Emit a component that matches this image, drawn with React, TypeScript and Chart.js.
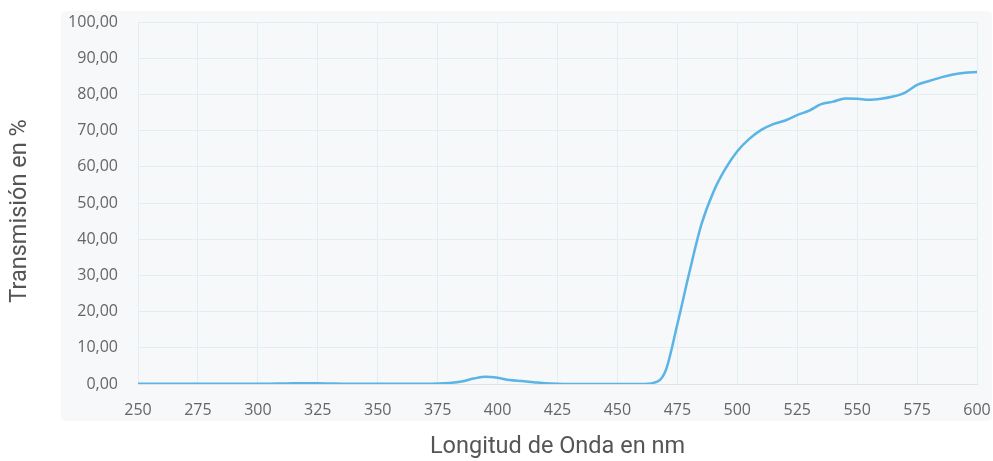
import React, { useEffect, useRef } from "react";
import { Chart, registerables } from "chart.js";

Chart.register(...registerables);

const wavelengths: number[] = [
  250, 255, 260, 265, 270, 275, 280, 285, 290, 295, 300, 305, 310, 315, 320, 325, 330, 335, 340, 345,
  350, 355, 360, 365, 370, 375, 380, 385, 390, 395, 400, 405, 410, 415, 420, 425, 430, 435, 440, 445,
  450, 455, 460, 465, 470, 475, 480, 485, 490, 495, 500, 505, 510, 515, 520, 525, 530, 535, 540, 545,
  550, 555, 560, 565, 570, 575, 580, 585, 590, 595, 600,
];

const transmission: number[] = [
  0.1, 0.1, 0.1, 0.1, 0.1, 0.1, 0.1, 0.1, 0.1, 0.1, 0.1, 0.1, 0.15, 0.2, 0.2, 0.2, 0.15, 0.1, 0.1, 0.1,
  0.1, 0.1, 0.1, 0.1, 0.1, 0.15, 0.3, 0.7, 1.5, 2.0, 1.7, 1.1, 0.8, 0.5, 0.2, 0.05, 0, 0, 0, 0,
  0, 0, 0, 0.3, 3.5, 16.5, 30.8, 44, 53, 59.4, 64.3, 67.7, 70.2, 71.8, 72.8, 74.3, 75.5, 77.3, 78, 78.9,
  78.8, 78.5, 78.8, 79.4, 80.5, 82.6, 83.7, 84.7, 85.5, 86.0, 86.2,
];

const xTitle = "Longitud de Onda en nm";
const yTitle = "Transmisión en %";

const panelPlugin = {
  id: "panelBg",
  beforeDraw(chart: any) {
    const { ctx, chartArea } = chart;
    const x0 = chartArea.left - 77;
    const y0 = chartArea.top - 11;
    const x1 = chartArea.right + 15;
    const y1 = chartArea.bottom + 37;
    const r = 6;
    ctx.save();
    ctx.fillStyle = "#f6f8f9";
    ctx.beginPath();
    ctx.moveTo(x0 + r, y0);
    ctx.lineTo(x1 - r, y0);
    ctx.quadraticCurveTo(x1, y0, x1, y0 + r);
    ctx.lineTo(x1, y1 - r);
    ctx.quadraticCurveTo(x1, y1, x1 - r, y1);
    ctx.lineTo(x0 + r, y1);
    ctx.quadraticCurveTo(x0, y1, x0, y1 - r);
    ctx.lineTo(x0, y0 + r);
    ctx.quadraticCurveTo(x0, y0, x0 + r, y0);
    ctx.closePath();
    ctx.fill();
    ctx.restore();
  },
};

const yTitlePlugin = {
  id: "yTitleText",
  afterDraw(chart: any) {
    const { ctx, chartArea } = chart;
    ctx.save();
    ctx.translate(chartArea.left - 118, (chartArea.top + chartArea.bottom) / 2 + 8);
    ctx.rotate(-Math.PI / 2);
    ctx.fillStyle = "#555555";
    ctx.font = "23.5px Roboto";
    ctx.textAlign = "center";
    ctx.textBaseline = "middle";
    ctx.fillText(yTitle, 0, 0);
    ctx.restore();
  },
};

export default function App() {
  const canvasRef = useRef<HTMLCanvasElement | null>(null);

  useEffect(() => {
    if (!canvasRef.current) return;
    const points = wavelengths.map((w, i) => ({ x: w, y: transmission[i] }));
    const chart = new Chart(canvasRef.current, {
      type: "line",
      data: {
        datasets: [
          {
            data: points,
            borderColor: "#5ab4e6",
            borderWidth: 2.5,
            pointRadius: 0,
            fill: false,
            cubicInterpolationMode: "monotone",
          },
        ],
      },
      options: {
        animation: false,
        responsive: false,
        layout: { padding: { left: 0, top: 22, right: 16, bottom: 0 } },
        plugins: {
          legend: { display: false },
          tooltip: { enabled: false },
        },
        scales: {
          x: {
            type: "linear",
            min: 250,
            max: 600,
            afterFit: (s: any) => {
              s.height = 77;
              s.paddingLeft = 0;
              s.paddingRight = 0;
            },
            ticks: {
              stepSize: 25,
              padding: 17,
              color: "#666666",
              font: { family: "'Open Sans'", size: 16 },
              maxRotation: 0,
            },
            grid: { color: "#e3edf4", drawTicks: false, lineWidth: 1 },
            border: { display: true, color: "#dde3e7" },
            title: {
              display: true,
              text: xTitle,
              color: "#555555",
              font: { family: "Roboto", size: 23.5 },
              padding: { top: 0, bottom: 0 },
            },
          },
          y: {
            min: 0,
            max: 100,
            afterFit: (s: any) => {
              s.width = 138;
              s.paddingTop = 0;
              s.paddingBottom = 0;
            },
            ticks: {
              stepSize: 10,
              padding: 20,
              color: "#666666",
              font: { family: "'Open Sans'", size: 16 },
              callback: (v: any) => Number(v).toFixed(2).replace(".", ","),
            },
            grid: { color: "#e3edf4", drawTicks: false, lineWidth: 1 },
            border: { display: false },
            title: { display: false, text: yTitle },
          },
        },
      },
      plugins: [panelPlugin, yTitlePlugin],
    });
    return () => chart.destroy();
  }, []);

  return (
    <div style={{ position: "absolute", left: 0, top: 0, width: 993, height: 461, background: "#ffffff" }}>
      <canvas ref={canvasRef} width={993} height={461} style={{ display: "block" }} />
    </div>
  );
}
